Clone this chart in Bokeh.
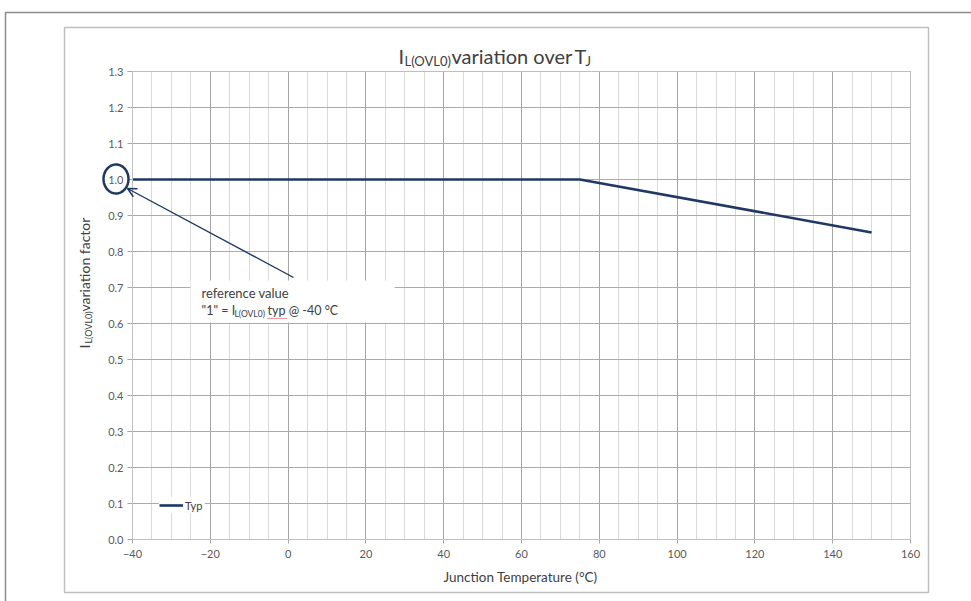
import numpy as np
from bokeh.plotting import figure
from bokeh.models import (Range1d, FixedTicker, PrintfTickFormatter, Label, BoxAnnotation,
                          PolyAnnotation, Arrow, OpenHead, Legend, LegendItem)
from bokeh.embed import file_html
from bokeh.resources import INLINE

# ---------------- data ----------------
temperature_c = [-40, 75, 150]
variation_factor = [1.0, 1.0, 0.853]
series_name = "Typ"
x_ticks = [-40, -20, 0, 20, 40, 60, 80, 100, 120, 140, 160]
x_minor_ticks = [-40, -35, -30, -25, -20, -15, -10, -5, 0, 5, 10, 15, 20, 25, 30, 35, 40, 45,
                 50, 55, 60, 65, 70, 75, 80, 85, 90, 95, 100, 105, 110, 115, 120, 125, 130,
                 135, 140, 145, 150, 155, 160]
y_ticks = [0.0, 0.1, 0.2, 0.3, 0.4, 0.5, 0.6, 0.7, 0.8, 0.9, 1.0, 1.1, 1.2, 1.3]

# ---------------- layout ----------------
W, H = 971, 601
PL, PR, PT, PB = 132, 910, 71, 539          # plot area in canvas pixels
XMIN, XMAX, YMIN, YMAX = -40, 160, 0.0, 1.3
kx = (PR - PL) / (XMAX - XMIN)
ky = (PB - PT) / (YMAX - YMIN)
NAVY = "#1F3864"
FONT = "Lato"
TXT = "#404040"

p = figure(width=W, height=H,
           x_range=Range1d(XMIN - PL / kx, XMAX + (W - PR) / kx),
           y_range=Range1d(YMIN - (H - PB) / ky, YMAX + PT / ky),
           output_backend="svg", toolbar_location=None,
           min_border_left=0, min_border_right=0, min_border_top=0, min_border_bottom=0)
p.background_fill_color = "white"
p.border_fill_color = "white"
p.outline_line_color = None

# axes, drawn at the plot-area edges
p.xaxis.ticker = FixedTicker(ticks=x_ticks, minor_ticks=x_minor_ticks)
p.yaxis.ticker = FixedTicker(ticks=y_ticks)
p.yaxis.formatter = PrintfTickFormatter(format="%.1f")
p.xaxis.fixed_location = YMIN
p.yaxis.fixed_location = XMIN
p.xaxis.bounds = (XMIN, XMAX)
p.yaxis.bounds = (YMIN, YMAX)
for ax in (p.xaxis[0], p.yaxis[0]):
    ax.axis_line_color = "#A6A6A6"
    ax.major_tick_line_color = "#A6A6A6"
    ax.minor_tick_line_color = None
    ax.major_tick_in = 0
    ax.major_label_text_font = FONT
    ax.major_label_text_font_size = "11px"
    ax.major_label_text_color = "#595959"
p.xaxis.major_tick_out = 4
p.xaxis.major_label_standoff = 6
p.yaxis.major_tick_out = 5
p.yaxis.major_label_standoff = 4

# grids limited to the plot area
p.xgrid.grid_line_color = "#A6A6A6"
p.xgrid.minor_grid_line_color = "#D9D9D9"
p.ygrid.grid_line_color = "#ABABAB"
p.xgrid.bounds = (XMIN, XMAX)
p.ygrid.bounds = (YMIN, YMAX)
for g in p.xgrid:
    if "cross_bounds" in g.properties():
        g.cross_bounds = (YMIN, YMAX)
for g in p.ygrid:
    if "cross_bounds" in g.properties():
        g.cross_bounds = (XMIN, XMAX)

# plot-area border (top / right)
p.add_layout(BoxAnnotation(left=XMIN, right=XMAX, bottom=YMIN, top=YMAX,
                           fill_alpha=0, line_color="#BFBFBF", line_alpha=1, line_width=1))

# series
r = p.line(temperature_c, variation_factor, line_color=NAVY, line_width=2.6)

legend = Legend(items=[LegendItem(label=series_name, renderers=[r])], location=(159, 88),
                background_fill_color="white", border_line_color=None, padding=9, margin=0,
                glyph_width=24, glyph_height=16, label_standoff=2,
                label_text_font=FONT, label_text_font_size="11px", label_text_color=TXT)
p.add_layout(legend)


def cbox(l, r_, t_, b, **kw):
    p.add_layout(BoxAnnotation(left=l, right=r_, top=t_, bottom=b,
                               left_units="canvas", right_units="canvas",
                               top_units="canvas", bottom_units="canvas", **kw))


# chart frames (canvas pixels)
cbox(64, 928, 27, 592, fill_alpha=0, line_color="#BFBFBF", line_alpha=1, line_width=1.5)
cbox(5, 990, 12, 640, fill_alpha=0, line_color="#8C8C8C", line_alpha=1, line_width=1.5)


def lab(px, py, text, size, color=TXT, **kw):
    p.add_layout(Label(x=px, y=py, x_units="canvas", y_units="canvas", text=text,
                       text_font=FONT, text_font_size=size, text_color=color,
                       text_baseline="middle", **kw))


# title: I_L(OVL0) variation over T_J
lab(398, 55, "I", "20px")
lab(404, 60, "L(OVL0)", "13px")
lab(451, 55, "variation over", "20px")
lab(574, 55, "T", "20px")
lab(585, 60, "J", "13px")

# x axis title
lab(520, 576, "Junction Temperature (°C)", "13.5px", text_align="center")

# y axis title (rotated): I_L(OVL0) variation factor
lab(84, 348, "I", "14px", angle=np.pi / 2)
lab(88, 343, "L(OVL0)", "9px", angle=np.pi / 2)
lab(84, 311, "variation factor", "14px", angle=np.pi / 2)

# annotation box
cbox(190, 394, 280, 322, fill_color="white", fill_alpha=1, line_color=None)
lab(201, 292, "reference value", "13px")
lab(201, 310, "\"1\" = I", "12.5px")
lab(234, 313, "L(OVL0)", "8.5px")
lab(267, 310, "typ @ -40 °C", "12.5px")

# spell-check squiggles
for x0, x1, yy in ((267, 287, 318), (185, 203, 512)):
    p.add_layout(Arrow(end=None, x_start=x0, y_start=yy, x_end=x1, y_end=yy,
                       start_units="canvas", end_units="canvas",
                       line_color="#E03030", line_width=1, line_dash="1 1"))

# arrow to reference value
p.add_layout(Arrow(end=OpenHead(size=9, line_color=NAVY, line_width=1.5),
                   x_start=293, y_start=277, x_end=127, y_end=188,
                   start_units="canvas", end_units="canvas",
                   line_color=NAVY, line_width=1.4))

# ellipse around the 1.0 tick label
t = np.linspace(0, 2 * np.pi, 60)
p.add_layout(PolyAnnotation(xs=list(115.5 + 12.5 * np.cos(t)), ys=list(178.5 + 14.5 * np.sin(t)),
                            xs_units="canvas", ys_units="canvas",
                            fill_alpha=0, line_color=NAVY, line_alpha=1, line_width=2.5))

open("out.html", "w").write(file_html(p, INLINE))
